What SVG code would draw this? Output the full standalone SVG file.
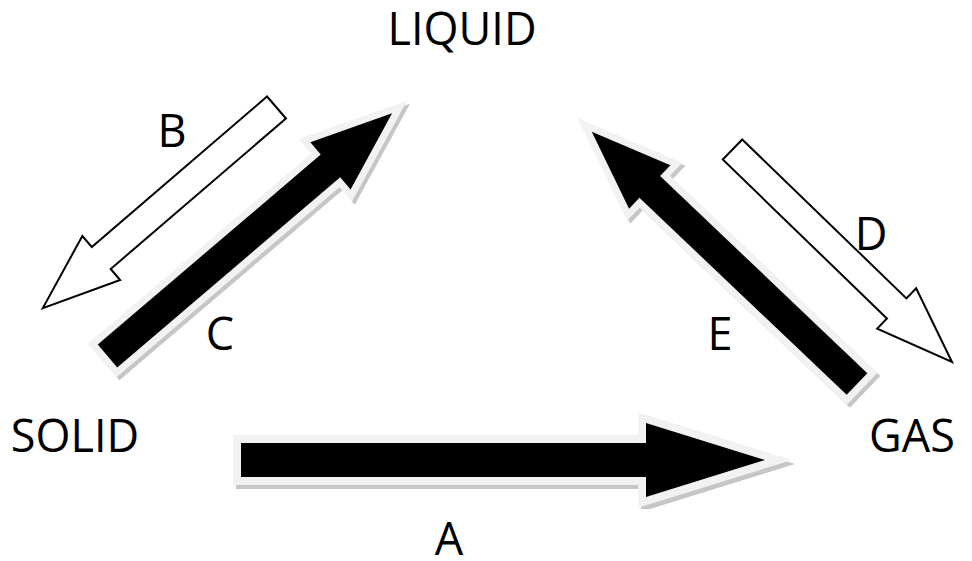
<svg xmlns="http://www.w3.org/2000/svg" width="972" height="561" viewBox="0 0 972 561">
<style>
  text { font-family: "Open Sans", "Liberation Sans", sans-serif; font-size: 45px; fill: #000; text-anchor: middle; }
  .shadow { fill: #c6c6c6; stroke: #c6c6c6; stroke-linejoin: miter; }
  .solid { fill: #000; stroke: #f2f2f2; stroke-linejoin: miter; paint-order: stroke; }
  .hollow { fill: #fff; stroke: #000; stroke-width: 2; stroke-linejoin: miter; }
</style>
<defs>
  <filter id="soft" x="-10%" y="-10%" width="120%" height="120%">
    <feGaussianBlur stdDeviation="0.7"/>
  </filter>
</defs>
<rect width="972" height="561" fill="#fff"/>

<g id="node-liquid"><text x="462" y="45">LIQUID</text></g>
<g id="node-solid"><text x="75" y="452">SOLID</text></g>
<g id="node-gas"><text x="912" y="452">GAS</text></g>

<g id="connectors">
  <g id="arrow-a">
    <g transform="translate(3,4)" filter="url(#soft)">
      <polygon class="shadow" stroke-width="16" transform="translate(241,460)" points="0,-17 405,-17 405,-37 524,0 405,37 405,17 0,17"/>
    </g>
    <polygon class="solid" stroke-width="16" transform="translate(241,460)" points="0,-17 405,-17 405,-37 524,0 405,37 405,17 0,17"/>
    <text x="449" y="555">A</text>
  </g>
  <g id="arrow-c">
    <g transform="translate(3,3)" filter="url(#soft)">
      <polygon class="shadow" stroke-width="14" transform="translate(107.5,356) rotate(-40.45)" points="0,-15 293,-15 293,-31 374,0 293,31 293,15 0,15"/>
    </g>
    <polygon class="solid" stroke-width="14" transform="translate(107.5,356) rotate(-40.45)" points="0,-15 293,-15 293,-31 374,0 293,31 293,15 0,15"/>
    <text x="220" y="350">C</text>
  </g>
  <g id="arrow-e">
    <g transform="translate(3,3)" filter="url(#soft)">
      <polygon class="shadow" stroke-width="14" transform="translate(857,384) rotate(-136.44)" points="0,-15 286,-15 286,-30 366,0 286,30 286,15 0,15"/>
    </g>
    <polygon class="solid" stroke-width="14" transform="translate(857,384) rotate(-136.44)" points="0,-15 286,-15 286,-30 366,0 286,30 286,15 0,15"/>
    <text x="720" y="350">E</text>
  </g>
  <g id="arrow-b">
    <polygon class="hollow" transform="translate(276.5,107.5) rotate(139.35)" points="0,-14.5 231,-14.5 231,-29 308,0 231,29 231,14.5 0,14.5"/>
    <text x="172" y="147">B</text>
  </g>
  <g id="arrow-d">
    <polygon class="hollow" transform="translate(732.5,149.5) rotate(44.07)" points="0,-14 228.5,-14 228.5,-28 305.5,0 228.5,28 228.5,14 0,14"/>
    <text x="871" y="250">D</text>
  </g>
</g>
</svg>
